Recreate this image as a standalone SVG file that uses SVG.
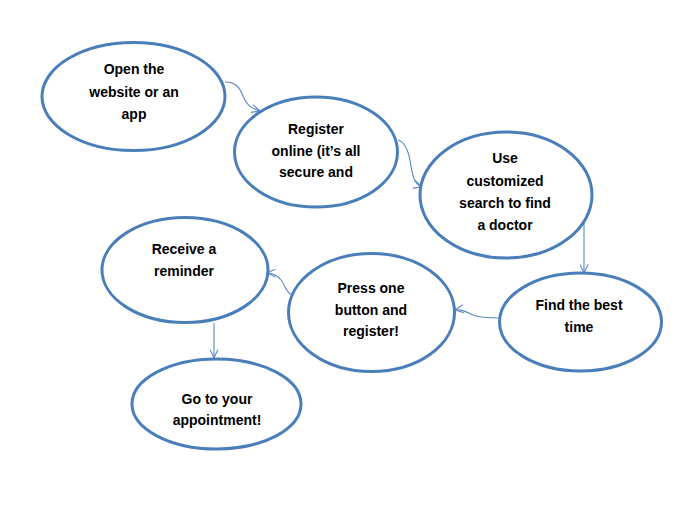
<svg xmlns="http://www.w3.org/2000/svg" width="699" height="513" viewBox="0 0 699 513">
<style>
.node ellipse{fill:#ffffff;stroke:#4a7ebb;stroke-width:3}
.node text{font-family:"Liberation Sans",Arial,sans-serif;font-weight:bold;font-size:14px;fill:#000;text-anchor:middle}
.conn path{fill:none;stroke:#5b87c0;stroke-width:1.1}
</style>
<defs>
<marker id="arr" viewBox="0 0 10 10" refX="9.5" refY="5" markerWidth="9" markerHeight="9" markerUnits="userSpaceOnUse" orient="auto">
<path d="M0,0.5 L9.5,5 L0,9.5" fill="none" stroke="#5b87c0" stroke-width="1.2"/>
</marker>
</defs>
<rect width="699" height="513" fill="#ffffff"/>
<g class="conn">
<path d="M225,82 C236,82 240,88 243,96 C246,104 250,108 260,111" marker-end="url(#arr)"/>
<path d="M398,140 C405,142 408,150 410,160 C412,172 413,184 422,187" marker-end="url(#arr)"/>
<path d="M584,222 L584,273" marker-end="url(#arr)"/>
<path d="M499,318 C488,318 480,318 473,315 C467,312 462,309 455,310" marker-end="url(#arr)"/>
<path d="M292,295 C285,291 285,285 281,280 C277,275 272,273 267,273" marker-end="url(#arr)"/>
<path d="M214,323 L214,358" marker-end="url(#arr)"/>
</g>
<g id="n1" class="node">
<ellipse cx="133.5" cy="96.5" rx="91.5" ry="54"/>
<text x="134" y="74">Open the</text>
<text x="134" y="97">website or an</text>
<text x="134" y="119">app</text>
</g>
<g id="n2" class="node">
<ellipse cx="316" cy="152" rx="81.5" ry="55"/>
<text x="316" y="134">Register</text>
<text x="316" y="156">online (it’s all</text>
<text x="316" y="177">secure and</text>
</g>
<g id="n3" class="node">
<ellipse cx="506" cy="195" rx="86" ry="63"/>
<text x="505" y="163">Use</text>
<text x="505" y="186">customized</text>
<text x="505" y="208">search to find</text>
<text x="505" y="230">a doctor</text>
</g>
<g id="n4" class="node">
<ellipse cx="580.5" cy="322" rx="81" ry="49"/>
<text x="579" y="310">Find the best</text>
<text x="579" y="332">time</text>
</g>
<g id="n5" class="node">
<ellipse cx="371.5" cy="312.5" rx="83" ry="59"/>
<text x="371" y="293">Press one</text>
<text x="371" y="315">button and</text>
<text x="371" y="336">register!</text>
</g>
<g id="n6" class="node">
<ellipse cx="185" cy="270" rx="83" ry="52.5"/>
<text x="184" y="254">Receive a</text>
<text x="184" y="276">reminder</text>
</g>
<g id="n7" class="node">
<ellipse cx="216.5" cy="404" rx="84.5" ry="45"/>
<text x="217" y="404">Go to your</text>
<text x="217" y="425">appointment!</text>
</g>
</svg>
